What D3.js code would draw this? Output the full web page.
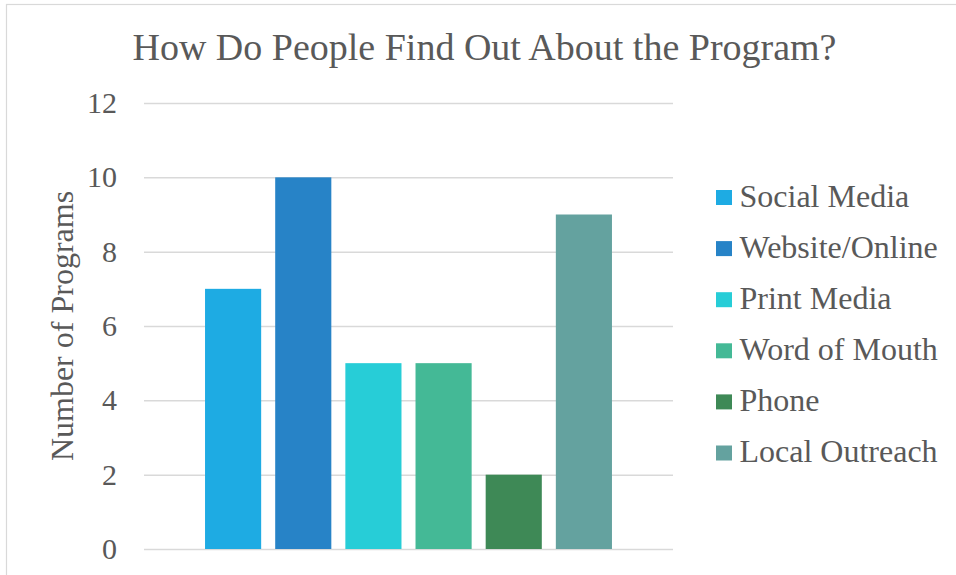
<!DOCTYPE html>
<html>
<head>
<meta charset="utf-8">
<script src="https://cdn.jsdelivr.net/npm/d3@7"></script>
<style>
  html, body { margin: 0; padding: 0; background: #fff; }
  svg { display: block; }
  text { font-family: "Liberation Serif", "Times New Roman", serif; fill: #595959; }
</style>
</head>
<body>
<script>
// Survey results: channels through which people learn about the program
const categories = ["Social Media", "Website/Online", "Print Media", "Word of Mouth", "Phone", "Local Outreach"];
const values = [7, 10, 5, 5, 2, 9];
const colors = ["#1eabe3", "#2783c7", "#27cdd7", "#44b996", "#3e8956", "#64a29f"];
const yTicks = [0, 2, 4, 6, 8, 10, 12];
const titleText = "How Do People Find Out About the Program?";
const yAxisTitle = "Number of Programs";

const W = 956, H = 575;
const plot = { left: 144, right: 673, top: 103, bottom: 549 };
const serif = "'Liberation Serif', 'Times New Roman', serif";

const svg = d3.select("body").append("svg").attr("width", W).attr("height", H);

// chart frame
svg.append("rect")
  .attr("x", 6.5).attr("y", 4.5)
  .attr("width", W + 10).attr("height", H + 10)
  .attr("fill", "none").attr("stroke", "#d9d9d9").attr("stroke-width", 1.2);

const y = d3.scaleLinear().domain([0, 12]).range([plot.bottom, plot.top]);
const x = d3.scaleBand().domain(categories).range([plot.left, plot.right])
  .paddingInner(0.2).paddingOuter(0.87);

// gridlines + tick labels
const yAxis = d3.axisLeft(y).tickValues(yTicks).tickSize(-(plot.right - plot.left)).tickPadding(27);
const gy = svg.append("g").attr("transform", `translate(${plot.left},0)`).call(yAxis);
gy.select(".domain").remove();
gy.selectAll(".tick line").attr("stroke", "#d9d9d9").attr("stroke-width", 1.5);
gy.selectAll(".tick text")
  .style("font-family", serif).style("font-size", "30px").attr("fill", "#595959");

// bars
svg.append("g").selectAll("rect").data(categories).join("rect")
  .attr("x", d => x(d))
  .attr("width", x.bandwidth())
  .attr("y", (d, i) => y(values[i]))
  .attr("height", (d, i) => y(0) - y(values[i]))
  .attr("fill", (d, i) => colors[i]);

// title
svg.append("text")
  .attr("x", 484.5).attr("y", 60)
  .attr("text-anchor", "middle")
  .style("font-size", "38px")
  .text(titleText);

// y axis title
svg.append("text")
  .attr("transform", `translate(73,${(plot.top + plot.bottom) / 2}) rotate(-90)`)
  .attr("text-anchor", "middle")
  .style("font-size", "32px")
  .text(yAxisTitle);

// legend
const legend = svg.append("g").selectAll("g").data(categories).join("g")
  .attr("transform", (d, i) => `translate(716,${197.5 + i * 51.1})`);
legend.append("rect")
  .attr("x", 0).attr("y", -7.5).attr("width", 16).attr("height", 15)
  .attr("fill", (d, i) => colors[i]);
legend.append("text")
  .attr("x", 23.5).attr("y", 9)
  .style("font-size", "32px")
  .text(d => d);
</script>
</body>
</html>
